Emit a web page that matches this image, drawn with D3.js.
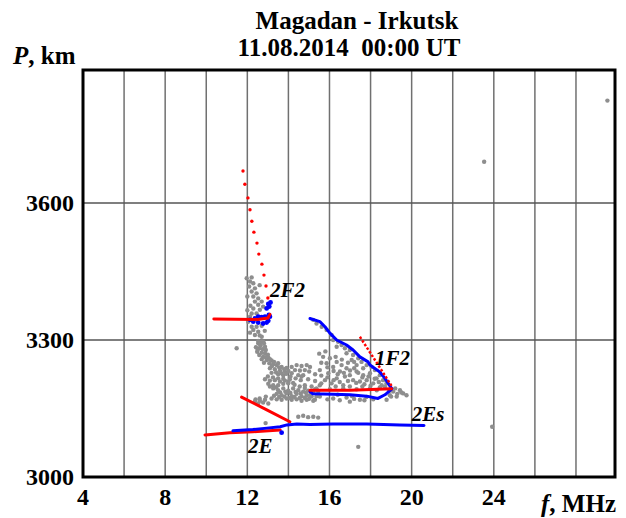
<!DOCTYPE html>
<html>
<head>
<meta charset="utf-8">
<script src="https://cdn.jsdelivr.net/npm/d3@7"></script>
<style>
  body { margin: 0; background: #fff; }
  svg { display: block; font-family: 'Liberation Serif', 'Times New Roman', serif; font-weight: bold; }
</style>
</head>
<body>
<div id="chart"></div>
<script>
// frequency (MHz) / group path (km) readings from the ionogram
const xTickLabels = [4, 8, 12, 16, 20, 24];
const xGrid = [6, 8, 10, 12, 14, 16, 18, 20, 22, 24, 26, 28];
const yTickLabels = [3000, 3300, 3600];
const yGrid = [3300, 3600];

// gray: raw echo points
const grayPoints = [
  // 2F2 column
  [11.97,3435],[12.21,3437],[12.13,3428],[12.29,3424],[12.09,3417],[12.37,3413],[12.21,3406],[12.45,3402],
  [12.29,3395],[12.53,3391],[12.37,3384],[12.70,3384],[12.53,3377],[12.77,3373],[12.29,3369],[12.61,3366],
  [12.21,3358],[12.45,3358],[12.13,3351],[12.04,3340],[12.21,3329],[12.45,3329],[12.70,3331],[12.29,3322],
  [12.53,3318],[12.13,3316],[12.37,3311],[12.70,3307],[12.77,3296],[12.53,3293],
  [12.00,3395],[12.60,3420],[12.15,3375],[12.45,3345],[12.65,3350],[12.00,3365],[12.85,3320],[12.60,3310],
  [11.48,3282],
  // tongue between 2F2 and 1F2
  [12.53,3298],[12.70,3296],[12.61,3291],[12.81,3293],
  [12.42,3284],[12.58,3282],[12.74,3280],[12.90,3278],[12.48,3274],[12.70,3272],[12.86,3271],[12.58,3267],
  [12.77,3263],[13.02,3262],[12.70,3258],[12.94,3256],[13.18,3255],[12.81,3250],[13.07,3249],[13.26,3247],
  [13.43,3245],[13.67,3241],[13.91,3239],[13.10,3238],[13.34,3236],[13.59,3233],[13.83,3231],[13.18,3228],
  [13.50,3225],[13.75,3223],
  [12.65,3288],[12.86,3285],[12.50,3278],[13.00,3268],[12.90,3262],[13.10,3258],[13.30,3252],[13.50,3249],
  [13.20,3243],[13.55,3240],[13.80,3236],[14.00,3232],[13.40,3229],[13.65,3227],[13.90,3226],[14.10,3220],
  [14.35,3216],[14.60,3212],[13.00,3220],[13.25,3218],[13.50,3216],[13.75,3215],[14.00,3208],[14.30,3202],
  [14.55,3198],[14.80,3195],[15.30,3192],[13.10,3198],[13.40,3196],[13.60,3185],[13.85,3187],[14.10,3184],
  [14.35,3186],[14.60,3183],[14.85,3185],[15.10,3182],[13.30,3178],[13.55,3175],[13.80,3176],[14.05,3173],
  [14.30,3175],[14.55,3173],[14.80,3173],[15.00,3171],[12.90,3176],[12.60,3172],[12.40,3170],
  [14.16,3241],[14.40,3245],[14.64,3243],[14.89,3245],[15.05,3241],[14.32,3234],[14.56,3233],[14.80,3234],
  [15.01,3231],[14.16,3227],[14.48,3223],[14.72,3223],
  [12.86,3214],[13.10,3211],[13.34,3212],[13.59,3209],[13.83,3211],[14.07,3214],[13.02,3204],[13.26,3201],
  [13.50,3201],[13.75,3204],[13.99,3205],[14.23,3206],
  [13.26,3194],[13.50,3190],[13.75,3194],[13.99,3189],[14.23,3194],[14.48,3190],[14.72,3187],[14.96,3189],
  [15.21,3185],[15.45,3187],
  [13.43,3182],[13.67,3179],[13.91,3183],[14.16,3177],[14.40,3182],[14.64,3177],[14.89,3179],[15.13,3176],[15.37,3177],
  [13.18,3172],[13.43,3170],[13.67,3169],[13.91,3172],[14.16,3169],[14.40,3170],[14.64,3167],[14.89,3169],[15.21,3167],
  [12.37,3165],[12.61,3167],[12.86,3169],[12.53,3161],[12.77,3163],[13.02,3161],
  [14.64,3220],[14.96,3214],[14.80,3201],[15.13,3198],[15.05,3179],
  // along 2E / 2Es
  [14.48,3132],[14.72,3134],[14.96,3131],[15.21,3132],[15.45,3130],[12.89,3118],
  // 1F2 upper band
  [15.21,3344],[15.37,3336],[15.62,3329],[15.86,3322],[16.10,3311],[16.18,3300],[16.42,3296],[16.59,3289],
  [16.35,3285],[16.75,3282],[16.99,3278],[16.83,3271],[17.15,3267],[17.40,3260],[17.08,3256],[17.56,3252],
  [17.32,3245],[17.81,3245],[18.05,3241],[17.64,3238],[18.21,3234],[17.97,3227],[18.45,3223],[18.29,3216],
  [18.61,3212],[18.78,3205],[18.54,3201],
  // 1F2 interior
  [15.69,3263],[16.02,3260],[16.35,3252],[15.86,3249],[16.18,3241],[16.59,3245],[16.83,3238],[16.51,3231],
  [15.53,3234],[15.94,3227],[16.99,3223],[17.32,3231],[17.64,3223],[16.75,3220],[17.15,3212],[17.48,3209],
  [17.81,3212],[18.13,3205],[16.35,3216],[15.78,3212],[16.10,3205],[15.53,3201],[16.67,3201],[16.99,3198],[18.45,3196],
  [15.60,3250],[15.90,3240],[16.20,3232],[16.40,3225],[16.70,3228],[17.00,3233],[17.20,3238],[17.40,3228],
  [17.60,3218],[17.90,3220],[18.20,3215],[18.40,3208],[18.70,3198],[18.00,3200],[17.70,3203],[17.30,3206],
  [16.90,3210],[16.50,3208],[16.20,3212],[15.90,3218],[15.60,3222],[15.30,3225],[15.30,3210],[15.60,3205],
  [16.30,3198],[17.60,3198],[16.30,3263],[16.60,3257],[16.90,3250],[17.20,3252],[15.50,3270],[15.80,3275],
  // around 1F2 horizontal
  [15.37,3194],[16.02,3192],[16.67,3194],[17.32,3192],[17.97,3194],[15.53,3176],[16.18,3172],[16.83,3174],
  [17.48,3169],[18.13,3170],[16.99,3165],[18.78,3169],[19.10,3187],[19.43,3190],[19.59,3183],[19.27,3176],
  [18.94,3179],[19.75,3179],[15.29,3169],
  [18.30,3190],[18.90,3188],[19.20,3194],[19.50,3185],[19.30,3182],[19.00,3176],[17.70,3168],[17.20,3171],
  [16.50,3168],[15.90,3170],[16.40,3180],[17.10,3177],[17.80,3175],
  // isolated
  [29.53,3824],[23.53,3690],[23.92,3110],[17.40,3066]
];

// red: model traces
const red2F2Dots = [
  [11.79,3670],[11.88,3641],[12.03,3611],[12.13,3585],[12.22,3560],[12.32,3536],[12.47,3512],
  [12.56,3488],[12.71,3466],[12.81,3442],[12.91,3418],[13.00,3392]
];
const red2F2Line = [[10.37,3346],[12.5,3345],[13.0,3348],[13.1,3356]];
const red1F2Dotted = [[17.48,3307],[18.3,3250],[19.07,3196]];
const red1F2Line = [[15.05,3190],[17.0,3190],[19.02,3193]];
const red2ELine = [[9.94,3092],[11.15,3097],[12.27,3099],[13.6,3103]];
const red2EDiag = [[11.72,3175],[12.9,3148],[14.07,3121]];

// blue: observed traces
const blue2F2 = [
  [13.02,3379],[13.13,3382],[13.07,3373],[12.94,3369],[13.05,3355],[13.10,3351],[12.86,3351],[12.70,3350],
  [12.53,3351],[12.37,3347],[12.29,3340],[12.53,3338],[12.77,3336],[12.94,3338],[13.02,3342],[12.13,3344]
];
const blue1F2Upper = [
  [15.05,3347],[15.53,3340],[15.78,3329],[16.02,3315],[16.35,3300],[16.83,3289],[17.15,3278],
  [17.48,3263],[17.88,3252],[17.97,3245],[18.45,3230],[18.70,3216],[19.02,3194]
];
const blue1F2Lower = [
  [19.04,3193],[18.70,3180],[18.36,3172],[17.81,3177],[17.0,3180],[16.17,3181],[15.19,3182],[15.05,3187]
];
const blue2E = [
  [11.3,3101],[12.27,3104],[12.95,3107],[13.6,3110],[13.93,3114],[14.41,3116],[15.05,3115],
  [16.17,3116],[17.82,3116],[19.43,3114],[20.6,3113]
];
const blue2EDot = [[13.67,3097]];

const traceLabels = [
  { text: '2F2', f: 13.10, p: 3394 },
  { text: '1F2', f: 18.21, p: 3245 },
  { text: '2Es', f: 20.0, p: 3122 },
  { text: '2E', f: 12.03, p: 3053 }
];

const width = 626, height = 518;
const svg = d3.select('#chart').append('svg').attr('width', width).attr('height', height);

const x = d3.scaleLinear().domain([4, 29.9]).range([83, 615]);
const y = d3.scaleLinear().domain([3000, 3891]).range([477, 70]);
const line = d3.line().x((d) => x(d[0])).y((d) => y(d[1]));

// grid
const grid = svg.append('g');
grid.selectAll('line.v').data(xGrid).join('line')
  .attr('x1', (d) => x(d)).attr('x2', (d) => x(d))
  .attr('y1', y.range()[1]).attr('y2', y.range()[0])
  .attr('stroke', '#707070').attr('stroke-width', 1.5);
grid.selectAll('line.h').data(yGrid).join('line')
  .attr('x1', x.range()[0]).attr('x2', x.range()[1])
  .attr('y1', (d) => y(d)).attr('y2', (d) => y(d))
  .attr('stroke', '#555').attr('stroke-width', 1.5);

// gray echoes
svg.append('g').selectAll('circle').data(grayPoints).join('circle')
  .attr('cx', (d) => x(d[0])).attr('cy', (d) => y(d[1])).attr('r', 2.2)
  .attr('fill', '#8e8e8e');

// red under blue
const redStyle = (sel) => sel.attr('fill', 'none').attr('stroke', '#ff0000').attr('stroke-width', 3).attr('stroke-linecap', 'round');
svg.append('path').datum(red2ELine).attr('d', line).call(redStyle);
svg.append('path').datum(red2EDiag).attr('d', line).call(redStyle);

// blue traces
const blueStyle = (sel) => sel.attr('fill', 'none').attr('stroke', '#0000ff').attr('stroke-width', 3)
  .attr('stroke-linejoin', 'round').attr('stroke-linecap', 'round');
svg.append('path').datum(blue2E).attr('d', line).call(blueStyle);
svg.append('path').datum(blue1F2Upper).attr('d', line).call(blueStyle);
svg.append('path').datum(blue1F2Lower).attr('d', line).call(blueStyle);
svg.append('g').selectAll('circle').data(blue2F2.concat(blue2EDot)).join('circle')
  .attr('cx', (d) => x(d[0])).attr('cy', (d) => y(d[1])).attr('r', 2.4)
  .attr('fill', '#0000ff');

// red on top
svg.append('path').datum(red2F2Line).attr('d', line).call(redStyle);
svg.append('path').datum(red1F2Line).attr('d', line).call(redStyle);
svg.append('path').datum(red1F2Dotted).attr('d', line).call(redStyle)
  .attr('stroke-width', 2.5).attr('stroke-linecap', 'butt').attr('stroke-dasharray', '2.5,1.8');
svg.append('g').selectAll('circle').data(red2F2Dots).join('circle')
  .attr('cx', (d) => x(d[0])).attr('cy', (d) => y(d[1])).attr('r', 1.7)
  .attr('fill', '#ff0000');

// trace labels
svg.append('g').selectAll('text').data(traceLabels).join('text')
  .attr('x', (d) => x(d.f)).attr('y', (d) => y(d.p))
  .attr('font-size', 21).attr('font-style', 'italic')
  .text((d) => d.text);

// frame
svg.append('rect')
  .attr('x', x.range()[0]).attr('y', y.range()[1])
  .attr('width', x.range()[1] - x.range()[0]).attr('height', y.range()[0] - y.range()[1])
  .attr('fill', 'none').attr('stroke', '#000').attr('stroke-width', 3);

// tick labels
svg.append('g').selectAll('text').data(xTickLabels).join('text')
  .attr('x', (d) => x(d)).attr('y', 505)
  .attr('text-anchor', 'middle').attr('font-size', 24)
  .text((d) => d);
svg.append('g').selectAll('text').data(yTickLabels).join('text')
  .attr('x', 74).attr('y', (d) => y(d)).attr('dy', '0.35em')
  .attr('text-anchor', 'end').attr('font-size', 24)
  .text((d) => d);

// axis titles
const yTitle = svg.append('text').attr('x', 13).attr('y', 64).attr('font-size', 25);
yTitle.append('tspan').attr('font-style', 'italic').text('P');
yTitle.append('tspan').text(', km');
const xTitle = svg.append('text').attr('x', 616).attr('y', 512).attr('text-anchor', 'end').attr('font-size', 25);
xTitle.append('tspan').attr('font-style', 'italic').text('f');
xTitle.append('tspan').text(', MHz');

// title
svg.append('text').attr('x', 357).attr('y', 29).attr('text-anchor', 'middle').attr('font-size', 25)
  .text('Magadan - Irkutsk');
svg.append('text').attr('x', 349).attr('y', 56).attr('text-anchor', 'middle').attr('font-size', 25)
  .style('white-space', 'pre')
  .text('11.08.2014  00:00 UT');
</script>
</body>
</html>
